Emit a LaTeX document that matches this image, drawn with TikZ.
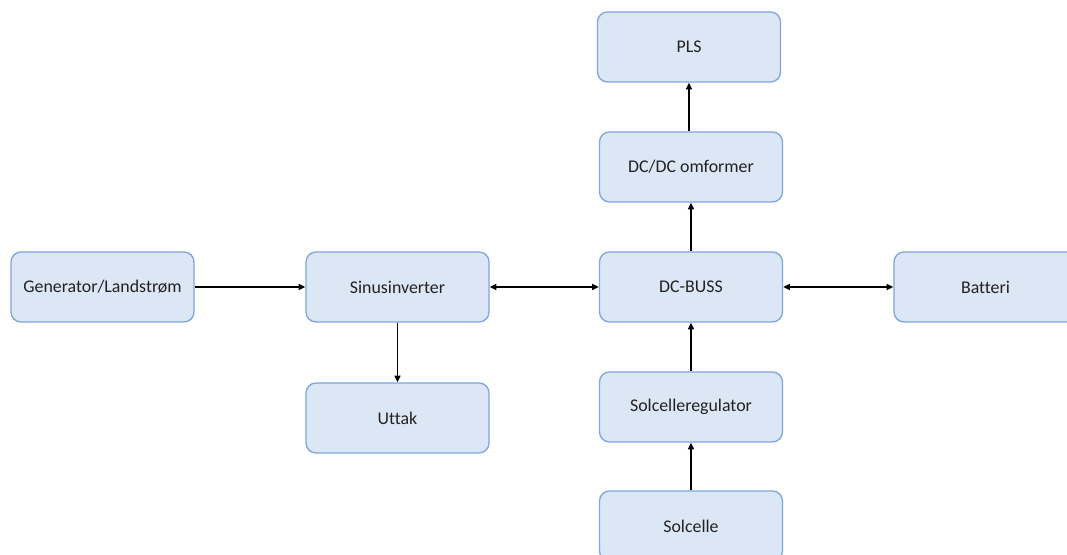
\documentclass[tikz,border=0pt]{standalone}
\usepackage{fontspec}
\setmainfont[Ligatures=NoCommon]{Carlito}
\usetikzlibrary{arrows.meta}
\definecolor{boxfill}{HTML}{DCE7F5}
\definecolor{boxdraw}{HTML}{7EA6E0}
\definecolor{txt}{HTML}{222222}
\tikzset{
  blk/.style={draw=boxdraw, fill=boxfill, line width=1pt, rounded corners=7.5pt,
    minimum width=137.25pt, minimum height=52.5pt, inner sep=0pt,
    text=txt, font=\fontsize{13.4}{16}\selectfont},
  conn/.style={line width=1.05pt, black, -{Triangle[length=5pt,width=4.5pt]}},
  biconn/.style={line width=1.05pt, black, {Triangle[length=5pt,width=4.5pt]}-{Triangle[length=5pt,width=4.5pt]}}
}
\begin{document}
\begin{tikzpicture}[x=0.75pt,y=-0.75pt]
\clip (0,0) rectangle (1067,555);
\fill[white] (0,0) rectangle (1067,555);
\node[blk] (gen) at (102.5,287) {Generator/Landstrøm};
\node[blk] (sinus) at (397.5,287) {Sinusinverter};
\node[blk] (uttak) at (397.5,418) {Uttak};
\node[blk] (dcbus) at (691,287) {DC-BUSS};
\node[blk] (dcdc) at (691,167) {DC/DC omformer};
\node[blk] (pls) at (689,47) {PLS};
\node[blk] (reg) at (691,407) {Solcelleregulator};
\node[blk] (sol) at (691,526) {Solcelle};
\node[blk] (bat) at (985.5,287) {Batteri};
\draw[conn] (gen) -- (sinus);
\draw[biconn] (sinus) -- (dcbus);
\draw[biconn] (dcbus) -- (bat);
\draw[conn] (sinus) -- (uttak);
\draw[conn] (dcbus) -- (dcdc);
\draw[conn] (dcdc.north -| pls.south) -- (pls.south);
\draw[conn] (reg) -- (dcbus);
\draw[conn] (sol) -- (reg);
\end{tikzpicture}
\end{document}
